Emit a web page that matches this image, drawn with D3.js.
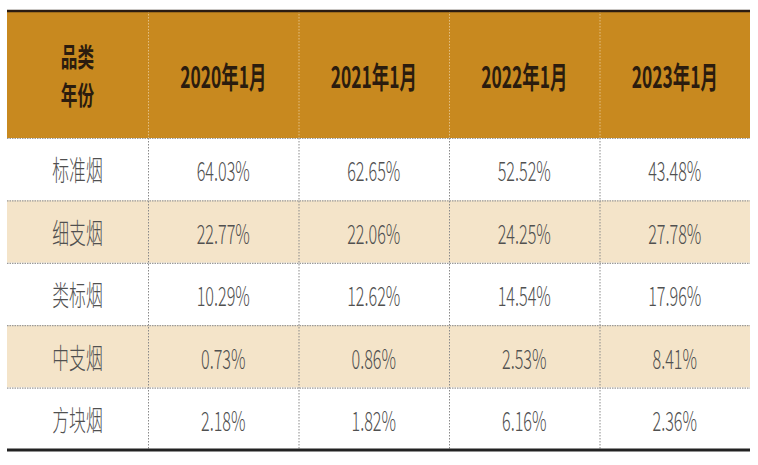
<!DOCTYPE html>
<html>
<head>
<meta charset="utf-8">
<script src="https://cdn.jsdelivr.net/npm/d3@7"></script>
<style>
  html, body { margin: 0; padding: 0; background: #ffffff; }
  svg { display: block; }
</style>
</head>
<body>
<div id="tableContainer"></div>
<script>
const ctx = {
    W: 758,
    H: 465,
    LEFT: 7,
    RIGHT: 750,
    TOP: 11,
    HEAD_BOTTOM: 138,
    BOTTOM: 450,
    LABEL_W: 141,
};

// data
const years = ["2020年1月", "2021年1月", "2022年1月", "2023年1月"];
const categories = ["标准烟", "细支烟", "类标烟", "中支烟", "方块烟"];
const headerLabel = ["品类", "年份"];
const shares = [
    [64.03, 62.65, 52.52, 43.48],
    [22.77, 22.06, 24.25, 27.78],
    [10.29, 12.62, 14.54, 17.96],
    [0.73, 0.86, 2.53, 8.41],
    [2.18, 1.82, 6.16, 2.36],
];

function makeTable(){
    let svgEl = d3.select("svg");

    // columns: label column then one band per year
    let xYear = d3.scaleBand()
                  .domain(years)
                  .range([ctx.LEFT + ctx.LABEL_W, ctx.RIGHT]);
    let yRow = d3.scaleBand()
                 .domain(categories)
                 .range([ctx.HEAD_BOTTOM, ctx.BOTTOM]);
    let labelX = ctx.LEFT + ctx.LABEL_W / 2;
    let fmt = (v) => v.toFixed(2) + "%";

    // header background
    svgEl.append("rect")
         .attr("x", ctx.LEFT)
         .attr("y", ctx.TOP)
         .attr("width", ctx.RIGHT - ctx.LEFT)
         .attr("height", ctx.HEAD_BOTTOM - ctx.TOP)
         .attr("fill", "#c8891f");

    // striped body rows
    svgEl.append("g")
         .attr("id", "rowBg")
         .selectAll("rect")
         .data(categories)
         .enter()
         .append("rect")
         .attr("x", ctx.LEFT)
         .attr("y", (d) => yRow(d))
         .attr("width", ctx.RIGHT - ctx.LEFT)
         .attr("height", yRow.bandwidth())
         .attr("fill", (d, i) => (i % 2 == 1 ? "#f4e4c9" : "#ffffff"));

    // vertical dotted dividers
    let vGrid = svgEl.append("g").attr("id", "vGrid");
    vGrid.selectAll("line.head")
         .data(years)
         .enter()
         .append("line")
         .attr("class", "head")
         .attr("x1", (d) => xYear(d) + 0.5)
         .attr("x2", (d) => xYear(d) + 0.5)
         .attr("y1", ctx.TOP)
         .attr("y2", ctx.HEAD_BOTTOM)
         .attr("stroke", "#e2bf84")
         .attr("stroke-width", 1)
         .attr("stroke-dasharray", "1.5,1.5");
    vGrid.selectAll("line.body")
         .data(years)
         .enter()
         .append("line")
         .attr("class", "body")
         .attr("x1", (d) => xYear(d) + 0.5)
         .attr("x2", (d) => xYear(d) + 0.5)
         .attr("y1", ctx.HEAD_BOTTOM)
         .attr("y2", ctx.BOTTOM)
         .attr("stroke", "#8a8a8a")
         .attr("stroke-width", 1)
         .attr("stroke-dasharray", "1.5,1.5");

    // horizontal dotted dividers
    svgEl.append("g")
         .attr("id", "hGrid")
         .selectAll("line")
         .data(categories)
         .enter()
         .append("line")
         .attr("x1", ctx.LEFT)
         .attr("x2", ctx.RIGHT)
         .attr("y1", (d) => yRow(d) + 0.5)
         .attr("y2", (d) => yRow(d) + 0.5)
         .attr("stroke", "#9a9a9a")
         .attr("stroke-width", 1.2)
         .attr("stroke-dasharray", "1.5,1");

    // top and bottom rules
    svgEl.append("line")
         .attr("x1", ctx.LEFT).attr("x2", ctx.RIGHT)
         .attr("y1", ctx.TOP).attr("y2", ctx.TOP)
         .attr("stroke", "#2a1c12")
         .attr("stroke-width", 2.5);
    svgEl.append("line")
         .attr("x1", ctx.LEFT).attr("x2", ctx.RIGHT)
         .attr("y1", ctx.BOTTOM).attr("y2", ctx.BOTTOM)
         .attr("stroke", "#222222")
         .attr("stroke-width", 3);

    let headMid = (ctx.TOP + ctx.HEAD_BOTTOM) / 2;
    let font = "'Noto Sans CJK SC', 'Noto Sans', sans-serif";

    // header texts
    let head = svgEl.append("g").attr("id", "header");
    head.selectAll("text.corner")
        .data(headerLabel)
        .enter()
        .append("text")
        .attr("class", "corner")
        .attr("transform", (d, i) => "translate(" + labelX + "," + (headMid + (i - 0.5) * 38) + ") scale(0.64,1)")
        .attr("text-anchor", "middle")
        .attr("dominant-baseline", "central")
        .attr("font-family", font)
        .attr("font-weight", "bold")
        .attr("font-size", 26)
        .attr("fill", "#2b1c0e")
        .text((d) => d);
    head.selectAll("text.year")
        .data(years)
        .enter()
        .append("text")
        .attr("class", "year")
        .attr("transform", (d) => "translate(" + (xYear(d) + xYear.bandwidth() / 2) + "," + (headMid + 1) + ") scale(0.58,1)")
        .attr("text-anchor", "middle")
        .attr("dominant-baseline", "central")
        .attr("font-family", font)
        .attr("font-weight", "bold")
        .attr("font-size", 30)
        .attr("fill", "#2b1c0e")
        .text((d) => d);

    // row labels
    svgEl.append("g")
         .attr("id", "rowLabels")
         .selectAll("text")
         .data(categories)
         .enter()
         .append("text")
         .attr("transform", (d) => "translate(" + labelX + "," + (yRow(d) + yRow.bandwidth() / 2) + ") scale(0.6,1)")
         .attr("text-anchor", "middle")
         .attr("dominant-baseline", "central")
         .attr("font-family", font)
         .attr("font-weight", 300)
         .attr("font-size", 28)
         .attr("fill", "#505050")
         .text((d) => d);

    // values
    svgEl.append("g")
         .attr("id", "cells")
         .selectAll("g")
         .data(categories)
         .enter()
         .append("g")
         .selectAll("text")
         .data((d, i) => shares[i].map((v, j) => ({cat: d, year: years[j], v: v})))
         .enter()
         .append("text")
         .attr("transform", (d) => "translate(" + (xYear(d.year) + xYear.bandwidth() / 2) + "," + (yRow(d.cat) + yRow.bandwidth() / 2) + ") scale(0.6,1)")
         .attr("text-anchor", "middle")
         .attr("dominant-baseline", "central")
         .attr("font-family", font)
         .attr("font-weight", 300)
         .attr("font-size", 27)
         .attr("fill", "#505050")
         .text((d) => fmt(d.v));
};

function createViz() {
    d3.select("#tableContainer").append("svg")
                                .attr("width", ctx.W)
                                .attr("height", ctx.H);
    makeTable();
};

createViz();
</script>
</body>
</html>
